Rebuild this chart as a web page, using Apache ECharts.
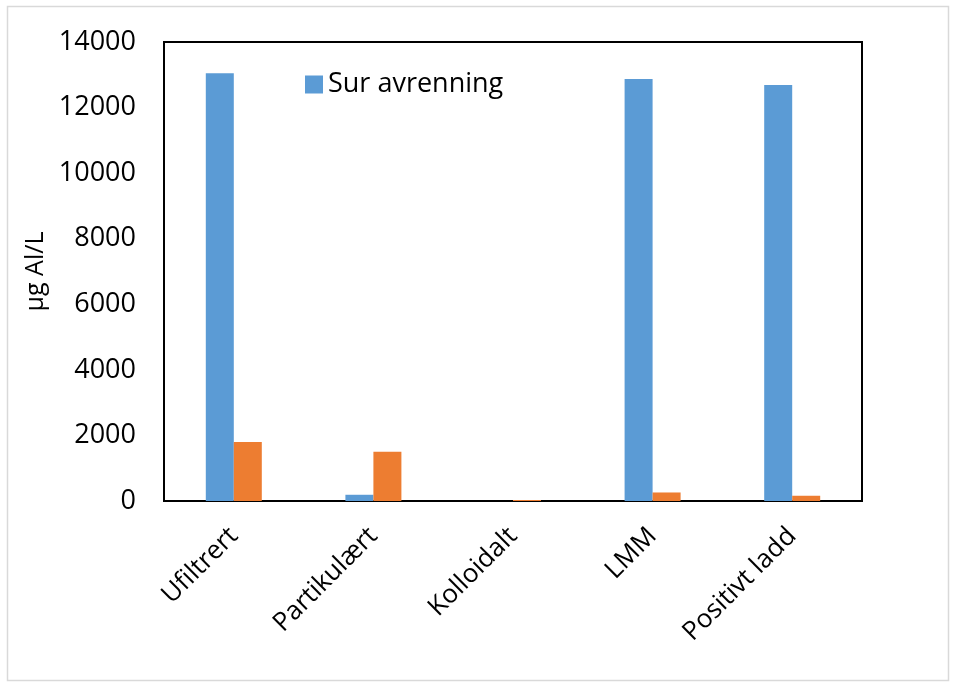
<!DOCTYPE html>
<html>
<head>
<meta charset="utf-8">
<script src="https://cdn.jsdelivr.net/npm/echarts@6/dist/echarts.min.js"></script>
<style>
  html, body { margin: 0; padding: 0; background: #fff; }
  #chart { width: 956px; height: 688px; }
</style>
</head>
<body>
<div id="chart"></div>
<script>
// Aluminium fractions (µg Al/L)
const categories = ['Ufiltrert', 'Partikulært', 'Kolloidalt', 'LMM', 'Positivt ladd'];
const surAvrenning = [13050, 190, 0, 12870, 12690];
const andreSerie = [1800, 1500, 30, 260, 160];
const yTicks = { min: 0, max: 14000, step: 2000 };

const FONT = '"Open Sans", "Liberation Sans", sans-serif';

const chart = echarts.init(document.getElementById('chart'), null, { renderer: 'canvas' });
chart.setOption({
  backgroundColor: '#fff',
  animation: false,
  graphic: [{
    type: 'rect',
    shape: { x: 7.5, y: 6.5, width: 941, height: 674 },
    style: { fill: 'none', stroke: '#d9d9d9', lineWidth: 1.5 },
    silent: true
  }],
  legend: {
    data: ['Sur avrenning'],
    left: 300,
    top: 66,
    itemWidth: 18,
    itemHeight: 18,
    itemGap: 8,
    icon: 'rect',
    textStyle: { fontFamily: FONT, fontSize: 27, color: '#000' }
  },
  grid: {
    left: 164, top: 42, right: 94, bottom: 187,
    show: true, borderColor: '#000', borderWidth: 2, backgroundColor: 'transparent'
  },
  xAxis: {
    type: 'category',
    data: categories,
    axisLine: { show: false },
    axisTick: { show: false },
    axisLabel: {
      rotate: 45, interval: 0, margin: 31,
      fontFamily: FONT, fontSize: 26, color: '#000'
    }
  },
  yAxis: {
    type: 'value',
    min: yTicks.min, max: yTicks.max, interval: yTicks.step,
    name: 'µg Al/L',
    nameLocation: 'middle',
    nameGap: 114,
    nameTextStyle: { fontFamily: FONT, fontSize: 25, color: '#000' },
    axisLine: { show: false },
    axisTick: { show: false },
    splitLine: { show: false },
    axisLabel: {
      margin: 28, fontFamily: FONT, fontSize: 27, color: '#000',
      formatter: (v) => String(v)
    }
  },
  series: [
    {
      name: 'Sur avrenning', type: 'bar', data: surAvrenning,
      barWidth: 28, barGap: '0%',
      itemStyle: { color: '#5B9BD5' }
    },
    {
      name: 'Nøytral avrenning', type: 'bar', data: andreSerie,
      barWidth: 28, barGap: '0%',
      itemStyle: { color: '#ED7D31' }
    }
  ]
});
</script>
</body>
</html>
